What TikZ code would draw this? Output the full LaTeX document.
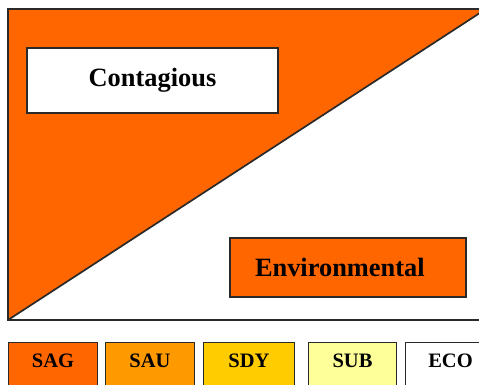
\documentclass[tikz,border=0pt]{standalone}
\usepackage{fontspec}
\setmainfont{Liberation Serif}
\usetikzlibrary{positioning}
\definecolor{sagorange}{HTML}{FF6600}
\definecolor{sauorange}{HTML}{FF9900}
\definecolor{sdyyellow}{HTML}{FFCC00}
\definecolor{subyellow}{HTML}{FFFF99}
\definecolor{edgegray}{HTML}{2A2A2A}
\begin{document}
\begin{tikzpicture}
        [
            x=1pt, y=-1pt,
            mode/.style = {draw=edgegray, line width=1.2pt, font=\fontsize{26.4}{30}\selectfont\bfseries},
            legend/.style = {draw=edgegray, line width=1pt, anchor=north west, inner xsep=0pt, inner ysep=4pt,
                             text height=20.8pt, text depth=19.2pt, font=\fontsize{20.5}{24}\selectfont\bfseries},
            node distance=7pt
        ]%
        \useasboundingbox (0,0) rectangle (479,384);
        \clip (0,0) rectangle (479,384);
        % upper panel split by the diagonal
        \coordinate (tl) at (8,9);
        \coordinate (tr) at (486,9);
        \coordinate (bl) at (8,320);
        \coordinate (br) at (486,320);
        \fill[sagorange] (tl) -- (tr) -- (bl) -- cycle;
        \draw[edgegray, line width=1.7pt] (tr) -- (bl);
        \draw[edgegray, line width=1.7pt] (tl) rectangle (br);
        \node[mode, fill=white, minimum width=251pt, minimum height=65pt] (contagious) at (152.5,80.5) {Contagious};
        \node[mode, fill=sagorange, inner xsep=25pt, text width=186pt, align=left, minimum height=59pt] (environmental) at (348,267.5) {Environmental};
        % legend
        \node[legend, fill=sagorange, minimum width=89pt] (sag) at (8,342) {SAG};
        \node[legend, fill=sauorange, minimum width=89pt, right=7pt of sag] (sau) {SAU};
        \node[legend, fill=sdyyellow, minimum width=91pt, right=8pt of sau] (sdy) {SDY};
        \node[legend, fill=subyellow, minimum width=88pt, right=13pt of sdy] (sub) {SUB};
        \node[legend, fill=white, minimum width=90pt, right=8pt of sub] (eco) {ECO};
        \end{tikzpicture}
\end{document}
